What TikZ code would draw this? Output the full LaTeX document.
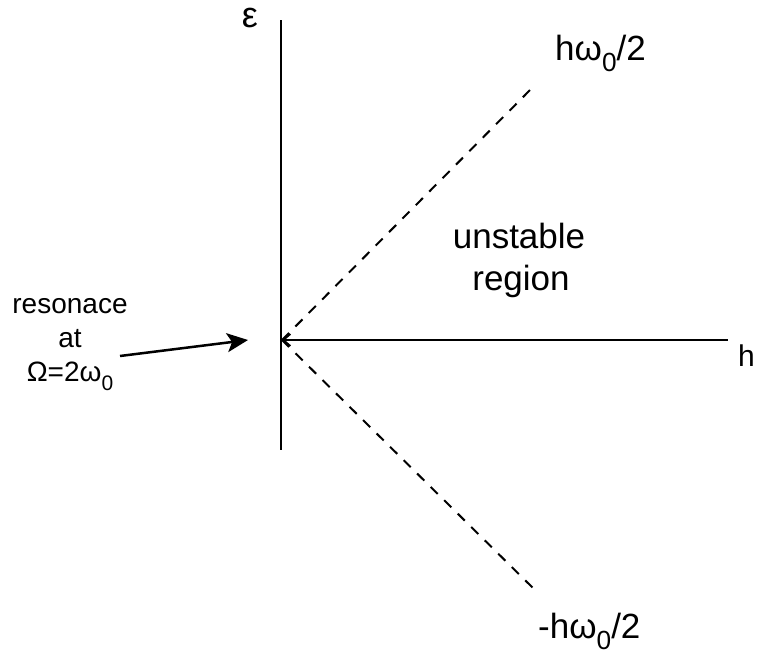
\documentclass[tikz,border=0pt]{standalone}
\usepackage{fontspec}
\setmainfont{Liberation Sans}
\usetikzlibrary{arrows.meta}
\newcommand\lowsub[1]{\raisebox{-0.33em}{\fontsize{0.75em}{0.75em}\selectfont #1}}
\begin{document}
\begin{tikzpicture}[x=1pt,y=-1pt,
  axis/.style={line width=2.5pt},
  guide/.style={line width=2pt,dash pattern=on 10pt off 9pt},
  lbl/.style={inner sep=0pt,font=\fontsize{30}{36}\selectfont},
  epslbl/.style={inner sep=0pt,font=\fontsize{36}{40}\selectfont},
  biglbl/.style={inner sep=0pt,font=\fontsize{35}{42}\selectfont},
  sidelbl/.style={inner sep=0pt,align=center,font=\fontsize{28}{34}\selectfont},
  pointer/.style={line width=2.5pt,-{Stealth[length=21pt,width=19pt,inset=5pt]}}]
\useasboundingbox (0,0) rectangle (757,654);
\coordinate (O) at (282,340);
\coordinate (vtop) at (281,20);
\coordinate (vbot) at (281,450);
\coordinate (hend) at (728,340);
\coordinate (up) at (535,85);
\coordinate (down) at (535,590);
\coordinate (ptrstart) at (120,356);
\coordinate (ptrend) at (248,340);
\draw[axis] (vtop) -- (vbot);
\draw[axis,{Straight Barb[length=7pt,width=12pt,line width=1.8pt]}-] (O) -- (hend);
\draw[guide] (O) -- (up);
\draw[guide] (O) -- (down);
\draw[pointer] (ptrstart) -- (ptrend);
\node[epslbl,anchor=base] (eps) at (250,27) {ε};
\node[biglbl,anchor=base west] (hup) at (555,60) {hω\lowsub{0}/2};
\node[biglbl,anchor=base west] (hdown) at (538,638) {-hω\lowsub{0}/2};
\node[lbl,anchor=base west] (hlab) at (738,366) {h};
\node[biglbl,anchor=base] (unst) at (519,248) {unstable};
\node[biglbl,anchor=base] (reg) at (521,290) {region};
\node[sidelbl,anchor=base] (res) at (70,313) {resonace};
\node[sidelbl,anchor=base] (at) at (70,347) {at};
\node[sidelbl,anchor=base] (om) at (70,381) {Ω=2ω\lowsub{0}};
\end{tikzpicture}
\end{document}
